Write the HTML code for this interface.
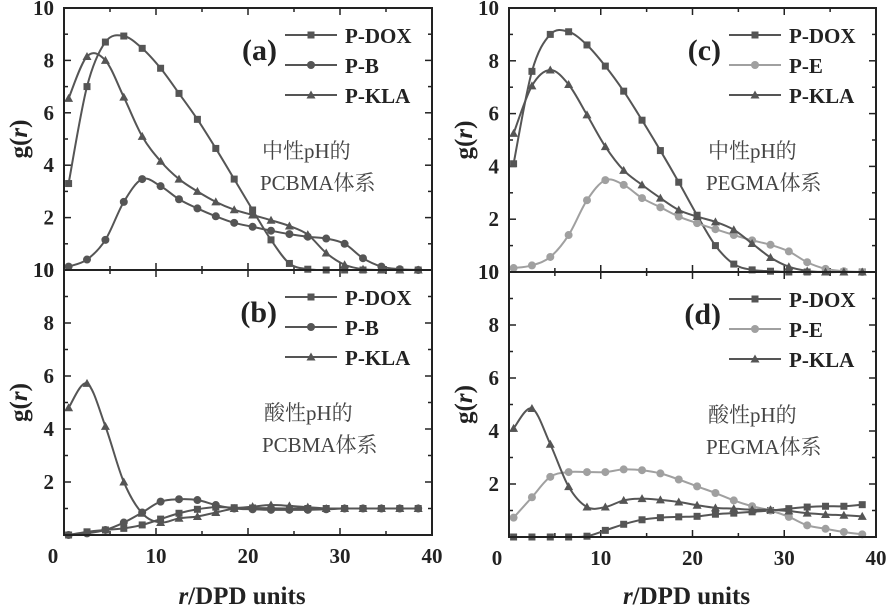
<!DOCTYPE html>
<html><head><meta charset="utf-8"><style>
body{margin:0;background:#fff;width:889px;height:610px;overflow:hidden}
svg{display:block}
</style></head><body>
<svg id="chart" width="889" height="610" xmlns="http://www.w3.org/2000/svg" font-family="'Liberation Serif','Noto Serif CJK SC',serif"></svg>
<script>
const rVals = [0.5,2.5,4.5,6.5,8.5,10.5,12.5,14.5,16.5,18.5,20.5,22.5,24.5,26.5,28.5,30.5,32.5,34.5,36.5,38.5];
const xTicks = [0,10,20,30,40];
const yTicks = [2,4,6,8,10];
// panel a
const aDox = [3.3,7.0,8.7,8.93,8.46,7.7,6.74,5.75,4.64,3.47,2.29,1.15,0.25,0.03,0,0,0,0,0,0];
const aB   = [0.13,0.4,1.15,2.6,3.47,3.2,2.7,2.35,2.05,1.8,1.65,1.5,1.37,1.27,1.2,1.0,0.45,0.13,0.03,0];
const aKla = [6.55,8.15,8.0,6.6,5.1,4.15,3.47,3.0,2.6,2.3,2.1,1.9,1.68,1.35,0.65,0.2,0.03,0,0,0];
// panel b
const bDox = [0,0.12,0.19,0.25,0.38,0.6,0.82,0.97,1.05,1.03,1.02,1.01,1.0,1.0,1.0,1.0,1.0,1.0,1.0,1.0];
const bB   = [0,0.06,0.19,0.47,0.85,1.26,1.35,1.32,1.13,1.0,0.97,0.95,0.95,0.95,0.97,1.0,1.0,1.0,1.0,1.0];
const bKla = [4.8,5.72,4.1,2.0,0.82,0.47,0.63,0.7,0.85,1.0,1.07,1.13,1.1,1.05,1.0,1.0,1.0,1.0,1.0,1.0];
// panel c
const cDox = [4.1,7.6,9.0,9.1,8.6,7.8,6.85,5.75,4.6,3.4,2.15,1.0,0.3,0.08,0.03,0,0,0,0,0];
const cE   = [0.15,0.25,0.57,1.4,2.72,3.48,3.3,2.8,2.45,2.1,1.85,1.62,1.4,1.2,1.03,0.78,0.37,0.12,0.03,0];
const cKla = [5.25,7.05,7.65,7.1,5.95,4.75,3.85,3.3,2.8,2.35,2.1,1.9,1.6,1.08,0.55,0.2,0.04,0,0,0];
// panel d
const dDox = [0,0,0,0,0.03,0.25,0.48,0.65,0.73,0.76,0.78,0.86,0.9,0.95,1.0,1.07,1.13,1.16,1.16,1.22];
const dE   = [0.73,1.5,2.27,2.45,2.45,2.45,2.55,2.52,2.4,2.17,1.91,1.66,1.38,1.16,1.0,0.76,0.44,0.31,0.19,0.1];
const dKla = [4.1,4.85,3.5,1.9,1.13,1.13,1.38,1.45,1.4,1.32,1.2,1.1,1.07,1.03,1.03,0.98,0.9,0.85,0.82,0.78];

const NS="http://www.w3.org/2000/svg";
const svg=document.getElementById('chart');
function mk(tag,attrs,parent){const e=document.createElementNS(NS,tag);for(const k in attrs)e.setAttribute(k,attrs[k]);(parent||svg).appendChild(e);return e;}
const DARK="#555", LIGHT="#a0a0a0";

function smooth(pts){
  let d=`M${pts[0][0]},${pts[0][1]}`;
  for(let i=0;i<pts.length-1;i++){
    const p0=pts[Math.max(0,i-1)],p1=pts[i],p2=pts[i+1],p3=pts[Math.min(pts.length-1,i+2)];
    const c1=[p1[0]+(p2[0]-p0[0])/6,p1[1]+(p2[1]-p0[1])/6];
    const c2=[p2[0]-(p3[0]-p1[0])/6,p2[1]-(p3[1]-p1[1])/6];
    d+=` C${c1[0]},${c1[1]} ${c2[0]},${c2[1]} ${p2[0]},${p2[1]}`;
  }
  return d;
}
function marker(g,type,x,y,color){
  let m;
  if(type==='square') m=mk('rect',{x:x-3.5,y:y-3.5,width:7,height:7,fill:color},g);
  else if(type==='circle') m=mk('circle',{cx:x,cy:y,r:4,fill:color},g);
  else m=mk('polygon',{points:`${x},${y-4.5} ${x+4.5},${y+3.5} ${x-4.5},${y+3.5}`,fill:color},g);
  return m;
}

function panel(cfg){
  const {id,x0,x1,yTop,yBot,series,label,legendX,note1,note2,noteX,showX,zeroLabelX}=cfg;
  const g=mk('g',{});
  
  
  const sx=v=>x0+(v/40)*(x1-x0);
  const sy=v=>yBot-(v/10)*(yBot-yTop);
  // ticks
  for(let v=0;v<=40;v+=5){
    const L=(v%10===0)?7:4;
    mk('line',{x1:sx(v),x2:sx(v),y1:yBot,y2:yBot-L,stroke:'#222','stroke-width':1.5},g);
    mk('line',{x1:sx(v),x2:sx(v),y1:yTop,y2:yTop+L,stroke:'#222','stroke-width':1.5},g);
  }
  for(let v=1;v<10;v++){
    const L=(v%2===0)?7:4;
    mk('line',{x1:x0,x2:x0+L,y1:sy(v),y2:sy(v),stroke:'#222','stroke-width':1.5},g);
    mk('line',{x1:x1,x2:x1-L,y1:sy(v),y2:sy(v),stroke:'#222','stroke-width':1.5},g);
  }
  // y tick labels
  yTicks.forEach(v=>{
    const t=mk('text',{x:x0-10,y:sy(v)+7,'text-anchor':'end','font-size':21,'font-weight':'bold',fill:'#222'},g);
    t.textContent=v;
    
    
  });
  const t0=mk('text',{x:x0-10,y:yBot+7,'text-anchor':'end','font-size':21,'font-weight':'bold',fill:'#222'},g);
  t0.textContent=showX?'':'10';
  if(showX){
    xTicks.forEach(v=>{
      const t=mk('text',{x:v===0?zeroLabelX:sx(v),y:yBot+28,'text-anchor':'middle','font-size':21,'font-weight':'bold',fill:'#222'},g);
      t.textContent=v;
      
      
    });
    const xt=mk('text',{x:(x0+x1)/2-6,y:604,'text-anchor':'middle','font-size':25,'font-weight':'bold',fill:'#222'},g);
    xt.innerHTML='<tspan font-style="italic">r</tspan>/DPD units';
    
    
  }
  // y title
  const yc=(yTop+yBot)/2;
  const yt=mk('text',{x:0,y:0,transform:`translate(${x0-37},${yc}) rotate(-90)`,'text-anchor':'middle','font-size':25,'font-weight':'bold',fill:'#222'},g);
  yt.innerHTML='g(<tspan font-style="italic">r</tspan>)';
  
  
  // series
  series.forEach((s,i)=>{
    const sg=mk('g',{},g);
    
    
    const pts=rVals.map((r,k)=>[sx(r),sy(s.data[k])]);
    mk('path',{d:smooth(pts),fill:'none',stroke:s.color,'stroke-width':2},sg);
    pts.forEach(p=>{
      const m=marker(sg,s.marker,p[0],p[1],s.color);
      
      
    });
    // legend
    const ly=yTop+27+i*30;
    const lg=mk('g',{},g);
    
    
    mk('line',{x1:legendX,x2:legendX+52,y1:ly,y2:ly,stroke:s.color,'stroke-width':2},lg);
    marker(lg,s.marker,legendX+26,ly,s.color);
    const lt=mk('text',{x:legendX+60,y:ly+8,'font-size':21,'font-weight':'bold',fill:'#222'},lg);
    lt.textContent=s.name;
  });
  const pl=mk('text',{x:legendX-8,y:yTop+52,'text-anchor':'end','font-size':30,'font-weight':'bold',fill:'#222'},g);
  pl.textContent=label;
  
  
  const n1=mk('text',{x:noteX,y:yTop+150,'font-size':21,fill:'#444'},g);
  n1.textContent=note1;
  
  
  const n2=mk('text',{x:noteX-2,y:yTop+182,'font-size':21,fill:'#444'},g);
  n2.textContent=note2;
  // frame
  mk('rect',{x:x0,y:yTop,width:x1-x0,height:yBot-yTop,fill:'none',stroke:'#222','stroke-width':2},g);
}

panel({id:'a',x0:64,x1:432,yTop:8,yBot:270,label:'(a)',legendX:285,noteX:262,note1:'中性pH的',note2:'PCBMA体系',showX:false,
  series:[{name:'P-DOX',data:aDox,color:DARK,marker:'square'},{name:'P-B',data:aB,color:DARK,marker:'circle'},{name:'P-KLA',data:aKla,color:DARK,marker:'triangle'}]});
panel({id:'b',x0:64,x1:432,yTop:270,yBot:535,label:'(b)',legendX:285,noteX:264,note1:'酸性pH的',note2:'PCBMA体系',showX:true,zeroLabelX:53,
  series:[{name:'P-DOX',data:bDox,color:DARK,marker:'square'},{name:'P-B',data:bB,color:DARK,marker:'circle'},{name:'P-KLA',data:bKla,color:DARK,marker:'triangle'}]});
panel({id:'c',x0:509,x1:876,yTop:8,yBot:272,label:'(c)',legendX:729,noteX:708,note1:'中性pH的',note2:'PEGMA体系',showX:false,
  series:[{name:'P-DOX',data:cDox,color:DARK,marker:'square'},{name:'P-E',data:cE,color:LIGHT,marker:'circle'},{name:'P-KLA',data:cKla,color:DARK,marker:'triangle'}]});
panel({id:'d',x0:509,x1:876,yTop:272,yBot:537,label:'(d)',legendX:729,noteX:708,note1:'酸性pH的',note2:'PEGMA体系',showX:true,zeroLabelX:497,
  series:[{name:'P-DOX',data:dDox,color:DARK,marker:'square'},{name:'P-E',data:dE,color:LIGHT,marker:'circle'},{name:'P-KLA',data:dKla,color:DARK,marker:'triangle'}]});
</script>
</body></html>
